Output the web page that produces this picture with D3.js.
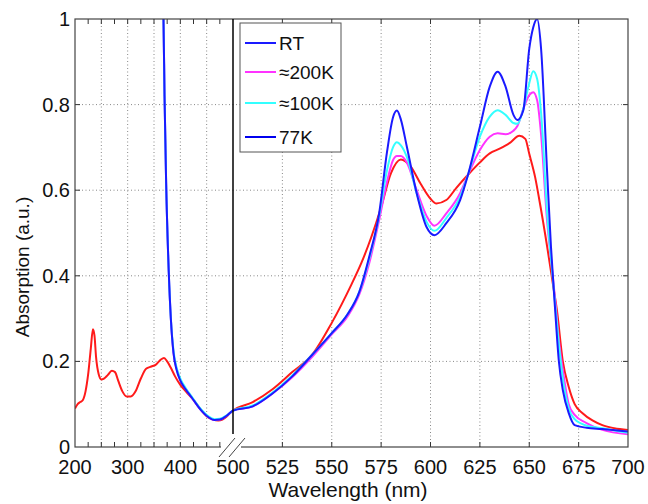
<!DOCTYPE html>
<html><head><meta charset="utf-8">
<script src="https://cdn.jsdelivr.net/npm/d3@7/dist/d3.min.js"></script>
<style>body{margin:0;background:#fff}svg{display:block;font-family:"Liberation Sans",Arial,sans-serif}</style>
</head><body><svg id="c" width="648" height="504"></svg>
<script>
// ---- data ----
const rtWl  = [200,205,210,215,220,225,230,234,237,240,245,250,255,262,270,276,282,290,298,306,315,325,335,345,353,362,369,375,382,390,400,412,425,437,450,462,472,480,488,495,500,
  510,520,530,540,550,560,565,570,575,580,585,590,595,600,603,608,613,619,625,630,635,640,645,648,650,653,655,659,662,664,667,670,673,677,682,687,693,700];
const rtAbs = [0.09,0.10,0.105,0.11,0.13,0.17,0.23,0.275,0.26,0.21,0.17,0.158,0.16,0.168,0.178,0.175,0.155,0.13,0.118,0.118,0.13,0.16,0.183,0.188,0.192,0.203,0.208,0.2,0.185,0.165,0.145,0.128,0.11,0.09,0.072,0.064,0.062,0.064,0.071,0.08,0.085,
  0.105,0.135,0.175,0.215,0.29,0.38,0.43,0.49,0.56,0.64,0.672,0.655,0.615,0.58,0.569,0.577,0.605,0.636,0.665,0.686,0.697,0.71,0.727,0.72,0.685,0.63,0.58,0.47,0.38,0.32,0.2,0.14,0.1,0.079,0.062,0.051,0.044,0.040];

const coldWl   = [366,368,370,373,378,382,387,393,400,410,422,438,453,465,475,488,500,
  510,520,530,540,550,558,564,569,574,578,581,583,585,588,593,598,602,608,615,619,625,630,634,638,642,644,647,650,652,654,656,659,661,663,665,667,670,673,679,687,700];
const k77Abs   = [1.05,1.0,0.82,0.62,0.41,0.30,0.22,0.18,0.155,0.135,0.115,0.088,0.07,0.063,0.064,0.073,0.085,
  0.095,0.125,0.165,0.215,0.266,0.31,0.363,0.445,0.546,0.69,0.77,0.786,0.765,0.702,0.593,0.514,0.495,0.523,0.577,0.636,0.748,0.842,0.877,0.842,0.776,0.764,0.787,0.93,0.98,1.0,0.93,0.647,0.468,0.328,0.2,0.133,0.079,0.051,0.045,0.042,0.036];
const k100Abs  = [1.05,1.0,0.82,0.62,0.41,0.30,0.225,0.185,0.16,0.138,0.117,0.09,0.072,0.065,0.066,0.074,0.085,
  0.097,0.127,0.167,0.215,0.266,0.31,0.363,0.44,0.54,0.647,0.70,0.712,0.705,0.678,0.593,0.526,0.505,0.535,0.585,0.636,0.725,0.772,0.787,0.776,0.757,0.755,0.79,0.85,0.878,0.86,0.78,0.55,0.44,0.34,0.24,0.16,0.09,0.065,0.05,0.044,0.033];
const k200Abs  = [1.05,1.0,0.82,0.62,0.41,0.30,0.22,0.182,0.157,0.136,0.115,0.088,0.07,0.063,0.064,0.073,0.085,
  0.095,0.125,0.163,0.21,0.263,0.305,0.357,0.43,0.53,0.62,0.67,0.68,0.68,0.665,0.60,0.54,0.517,0.546,0.593,0.636,0.694,0.725,0.733,0.731,0.739,0.75,0.79,0.822,0.829,0.81,0.73,0.53,0.44,0.35,0.25,0.18,0.10,0.075,0.056,0.04,0.030];

const xTickLabels = [200,300,400,500,525,550,575,600,625,650,675,700];
const xMinorTicks = [225,250,275,300,325,350,375,400,425,450,475];
const xGrid = [250,300,350,400,450,525,550,575,600,625,650,675];
const yTicks = [0,0.2,0.4,0.6,0.8,1];
const seriesNames = ["RT","≈200K","≈100K","77K"];
const legendColors = ["#1a1aff","#ff33ff","#33ffff","#0000ee"];

// ---- layout ----
const L=75, R=628, T=19, B=447, XB=233;
const svg=d3.select("#c");
const x=d3.scaleLinear().domain([200,500,700]).range([L,XB,R]);
const y=d3.scaleLinear().domain([0,1]).range([B,T]);

svg.append("defs").append("clipPath").attr("id","clip").append("rect")
  .attr("x",L).attr("y",T).attr("width",R-L).attr("height",B-T);

// grid
const g=svg.append("g");
g.selectAll(".vg").data(xGrid).join("line")
  .attr("x1",d=>x(d)).attr("x2",d=>x(d)).attr("y1",T).attr("y2",B)
  .attr("stroke","#888").attr("stroke-width",1).attr("stroke-dasharray","1,2.5");
g.selectAll(".hg").data(yTicks.slice(1,-1)).join("line")
  .attr("x1",L).attr("x2",R).attr("y1",d=>y(d)).attr("y2",d=>y(d))
  .attr("stroke","#888").attr("stroke-width",1).attr("stroke-dasharray","1,2.5");

// ticks (inward, bottom/top/left/right)
const allX=[...new Set([...xMinorTicks,...xTickLabels])].filter(d=>d>200&&d<700&&d!==500);
svg.append("g").selectAll("line").data(allX).join("line")
  .attr("x1",d=>x(d)).attr("x2",d=>x(d)).attr("y1",B).attr("y2",B-5).attr("stroke","#333");
svg.append("g").selectAll("line").data(allX).join("line")
  .attr("x1",d=>x(d)).attr("x2",d=>x(d)).attr("y1",T).attr("y2",T+5).attr("stroke","#333");
svg.append("g").selectAll("line").data(yTicks.slice(1,-1)).join("line")
  .attr("x1",L).attr("x2",L+5).attr("y1",d=>y(d)).attr("y2",d=>y(d)).attr("stroke","#333");
svg.append("g").selectAll("line").data(yTicks.slice(1,-1)).join("line")
  .attr("x1",R).attr("x2",R-5).attr("y1",d=>y(d)).attr("y2",d=>y(d)).attr("stroke","#333");

// curves
const line=d3.line().x(d=>x(d[0])).y(d=>y(d[1])).curve(d3.curveMonotoneX);
const curves=svg.append("g").attr("clip-path","url(#clip)");
const draw=(wl,v,c)=>curves.append("path").datum(wl.map((w,i)=>[w,v[i]]))
  .attr("d",line).attr("fill","none").attr("stroke",c).attr("stroke-width",2).attr("stroke-linejoin","round");
draw(rtWl,rtAbs,"#ff1a1a");
draw(coldWl,k200Abs,"#ff33ff");
draw(coldWl,k100Abs,"#33ffff");
draw(coldWl,k77Abs,"#1a1aff");

// frame
svg.append("rect").attr("x",L).attr("y",T).attr("width",R-L).attr("height",B-T)
  .attr("fill","none").attr("stroke","#444").attr("stroke-width",1.2);

// break line at 500
svg.append("line").attr("x1",x(500)).attr("x2",x(500)).attr("y1",T).attr("y2",B-13)
  .attr("stroke","#000").attr("stroke-width",1.5);
svg.append("rect").attr("x",x(500)-12).attr("y",B-2).attr("width",20).attr("height",4).attr("fill","#fff");
[-14,-4].forEach(a=>{
  svg.append("line").attr("x1",x(500)+a).attr("y1",B+10).attr("x2",x(500)+a+16).attr("y2",B-9)
    .attr("stroke","#444").attr("stroke-width",1);
});

// tick labels
svg.append("g").selectAll("text").data(xTickLabels).join("text")
  .attr("x",d=>x(d)).attr("y",B+27).attr("text-anchor","middle")
  .attr("font-size",20).attr("fill","#111").text(d=>d);
svg.append("g").selectAll("text").data(yTicks).join("text")
  .attr("x",L-5).attr("y",d=>y(d)+7).attr("text-anchor","end")
  .attr("font-size",20).attr("fill","#111").text(d=>d3.format("~g")(d));

// axis titles
svg.append("text").attr("x",348).attr("y",497).attr("text-anchor","middle")
  .attr("font-size",21).attr("fill","#111").text("Wavelength (nm)");
svg.append("text").attr("transform","translate(29,267) rotate(-90)").attr("text-anchor","middle")
  .attr("font-size",19).attr("fill","#111").text("Absorption (a.u.)");

// legend
const lg=svg.append("g");
lg.append("rect").attr("x",240).attr("y",23).attr("width",101).attr("height",129)
  .attr("fill","#fff").attr("stroke","#555").attr("stroke-width",1);
const ly=[43,72,103,137];
seriesNames.forEach((n,i)=>{
  lg.append("line").attr("x1",245).attr("x2",276).attr("y1",ly[i]).attr("y2",ly[i])
    .attr("stroke",legendColors[i]).attr("stroke-width",2);
  lg.append("text").attr("x",279).attr("y",ly[i]+7).attr("font-size",19).attr("fill","#111").text(n);
});
</script></body></html>
